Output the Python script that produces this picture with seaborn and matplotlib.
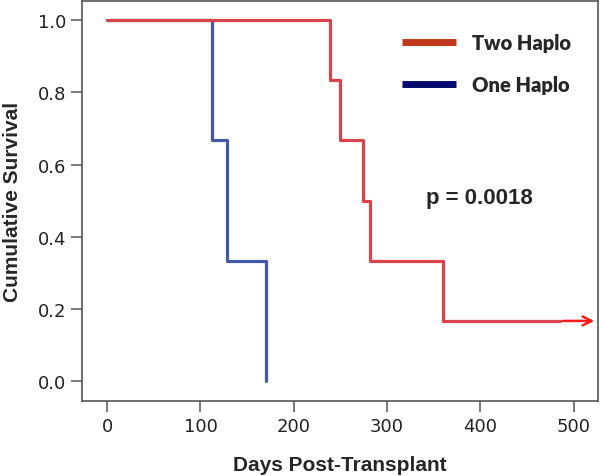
import numpy as np
import pandas as pd
import matplotlib
matplotlib.use("Agg")
import matplotlib.pyplot as plt
from matplotlib.lines import Line2D
import seaborn as sns

# Kaplan-Meier steps
two_days = [0, 239, 250, 274, 282, 360, 485]
two_surv = [1.0, 0.833, 0.667, 0.5, 0.333, 0.167, 0.167]
one_days = [0, 112, 128, 170]
one_surv = [1.0, 0.667, 0.333, 0.0]
arrow_end = 525
p_text = "p = 0.0018"

df = pd.concat([
    pd.DataFrame({"days": two_days, "surv": two_surv, "group": "Two Haplo"}),
    pd.DataFrame({"days": one_days, "surv": one_surv, "group": "One Haplo"}),
])

sns.set_theme(style="white")
plt.rcParams["font.family"] = ["DejaVu Sans"]
fig = plt.figure(figsize=(6.01, 4.77), dpi=100)
ax = fig.add_axes([0.1364, 0.157, 0.8586, 0.839])

line_cols = {"Two Haplo": "#d9434b", "One Haplo": "#4458a8"}
for g in ["One Haplo", "Two Haplo"]:
    sub = df[df["group"] == g]
    sns.lineplot(data=sub, x="days", y="surv", drawstyle="steps-post",
                 color=line_cols[g], linewidth=2.3, ax=ax, legend=False,
                 estimator=None)

# censored tail arrow
ax.annotate("", xy=(arrow_end, two_surv[-1]), xytext=(two_days[-1], two_surv[-1]),
            arrowprops=dict(arrowstyle="->", color="#ff1a1a", lw=1.8,
                            mutation_scale=16))

ax.set_xlim(-27, 526)
ax.set_ylim(-0.055, 1.053)
ax.set_xticks([0, 100, 200, 300, 400, 500])
ax.set_yticks([0.0, 0.2, 0.4, 0.6, 0.8, 1.0])
ax.set_yticklabels(["0.0", "0.2", "0.4", "0.6", "0.8", "1.0"])
ax.tick_params(axis="both", direction="out", length=8, width=1.1,
               color="#555555", labelsize=13, labelcolor="#222222",
               bottom=True, left=True)
for s in ax.spines.values():
    s.set_color("#555555")
    s.set_linewidth(1.2)

ax.set_xlabel("Days Post-Transplant", fontsize=15, fontweight="bold",
              family="Liberation Sans", labelpad=14)
ax.set_ylabel("Cumulative Survival", fontsize=15, fontweight="bold",
              family="Liberation Sans", labelpad=11)

ax.text(0.771, 0.51, p_text, transform=ax.transAxes, fontsize=16,
        fontweight="bold", family="Liberation Sans", ha="center", va="center")

handles = [Line2D([], [], color="#c0391b", lw=5, solid_capstyle="butt"),
           Line2D([], [], color="#000a6e", lw=5, solid_capstyle="butt")]
ax.legend(handles, ["Two Haplo", "One Haplo"], loc="upper right",
          bbox_to_anchor=(0.983, 0.965), frameon=False, handlelength=2.7,
          handletextpad=0.8, labelspacing=1.15,
          prop={"family": "Lato", "weight": "heavy", "size": 14.5})

fig.savefig("out.png", dpi=100)
